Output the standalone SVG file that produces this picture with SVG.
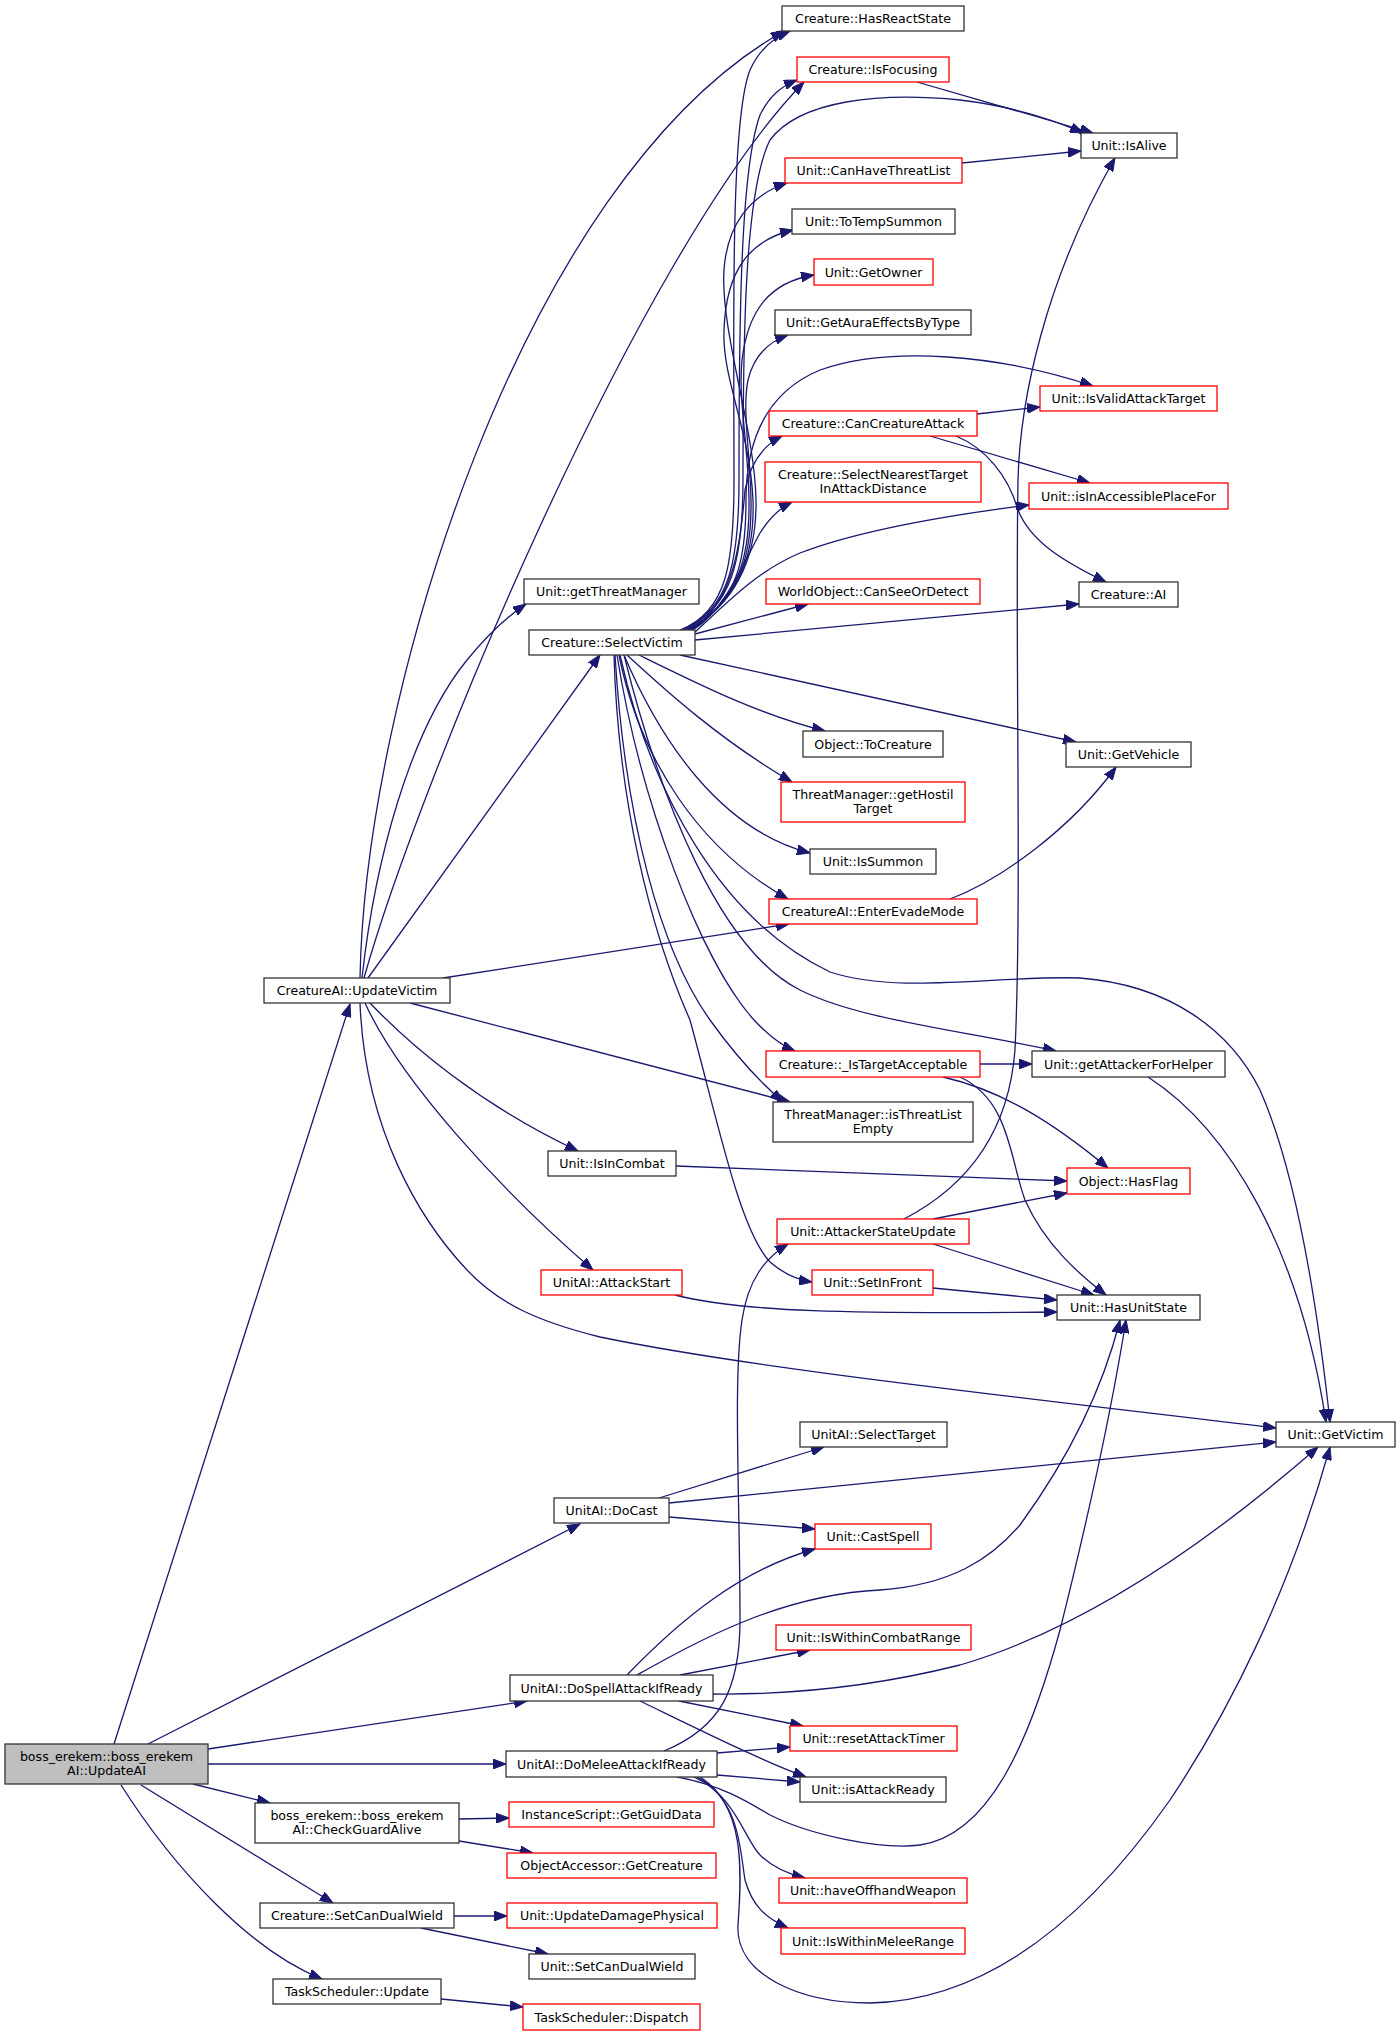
<svg xmlns="http://www.w3.org/2000/svg" width="1400" height="2036" viewBox="0 0 1400 2036">
<defs>
<style>
.n rect{fill:#ffffff;stroke:#333333;stroke-width:1.3}
.n.r rect{stroke:#ff0000}
.n.g rect{fill:#bfbfbf}
text{font-family:'DejaVu Sans','Liberation Sans',sans-serif;font-size:12.6px;text-anchor:middle;fill:#000000}
.e path{fill:none;stroke:#191970;stroke-width:1.3;marker-end:url(#a)}
</style>
<marker id="a" markerUnits="userSpaceOnUse" markerWidth="14" markerHeight="10" viewBox="0 0 14 10" refX="13" refY="5" orient="auto">
<path d="M0,0 L13,5 L0,10 z" fill="#191970" stroke="#191970" stroke-width="1"/>
</marker>
</defs>
<rect x="0" y="0" width="1400" height="2036" fill="#ffffff"/>
<g id="edges" class="e">
<!-- UpdateAI -->
<path d="M114,1744 L350,1004"/>
<path d="M148,1744 L580,1524"/>
<path d="M208,1749 L527,1701"/>
<path d="M208,1764 L506,1764"/>
<path d="M193,1784 L270,1803"/>
<path d="M141,1785 L333,1903"/>
<path d="M121,1785 C175,1870 250,1950 322,1979"/>
<!-- CheckGuardAlive / SetCanDualWield / Update -->
<path d="M459,1819 L509,1818"/>
<path d="M459,1841 L533,1853"/>
<path d="M454,1916 L507,1916"/>
<path d="M421,1928 L548,1954"/>
<path d="M441,1999 L523,2007"/>
<!-- UpdateVictim -->
<path d="M368,978 L600,655"/>
<path d="M362,978 C375,860 410,730 467,660 C485,638 505,618 526,604"/>
<path d="M364,978 C420,780 640,250 804,82"/>
<path d="M360,978 C365,700 520,180 784,31"/>
<path d="M443,978 L789,924"/>
<path d="M410,1003 L790,1102"/>
<path d="M370,1003 C410,1045 480,1105 578,1151"/>
<path d="M365,1003 C400,1080 500,1190 593,1270"/>
<path d="M360,1003 C365,1130 420,1220 467,1270 C500,1305 540,1322 600,1337 C750,1368 1000,1395 1276,1428"/>
<!-- IsInCombat / AttackStart -->
<path d="M676,1166 L1067,1181"/>
<path d="M675,1295 C740,1312 850,1314 1057,1312"/>
<!-- SelectVictim up -->
<path d="M680,630 C728,612 734,560 734,480 C734,330 730,120 750,70 C760,48 775,37 790,31"/>
<path d="M682,630 C730,610 739,560 739,480 C739,330 740,170 760,115 C770,95 782,86 797,80"/>
<path d="M684,630 C732,608 743,560 743,480 C743,330 745,190 770,140 C800,100 880,92 960,100 C1010,106 1050,118 1083,133"/>
<path d="M686,630 C734,606 757,560 756,500 C755,430 720,330 724,270 C727,225 750,195 787,183"/>
<path d="M688,630 C736,604 755,560 753,500 C750,430 722,380 724,330 C726,270 750,240 793,230"/>
<path d="M689,630 C737,602 750,560 749,500 C748,440 738,400 742,360 C748,310 770,282 814,275"/>
<path d="M690,630 C738,600 752,560 751,500 C750,450 742,410 748,380 C754,355 768,342 788,335"/>
<path d="M691,630 C738,600 746,560 746,500 C746,450 760,395 820,370 C890,345 1000,355 1093,386"/>
<path d="M692,630 C735,600 741,540 745,490 C750,465 762,446 782,436"/>
<path d="M693,630 C725,610 745,560 760,533 C770,517 780,508 792,502"/>
<path d="M695,632 C725,605 755,572 800,553 C860,530 950,515 1029,505"/>
<path d="M695,634 L808,604"/>
<path d="M695,640 L1079,604"/>
<!-- SelectVictim down -->
<path d="M680,655 L1076,742"/>
<path d="M639,655 C700,685 760,715 825,731"/>
<path d="M627,655 C665,690 720,740 792,782"/>
<path d="M624,655 C660,740 720,830 810,853"/>
<path d="M619,655 C640,760 700,850 788,899"/>
<path d="M620,655 C650,790 720,920 830,972 C900,995 1000,975 1080,978 C1170,985 1230,1030 1260,1090 C1300,1180 1320,1330 1330,1422"/>
<path d="M624,655 C660,800 720,950 800,990 C860,1020 960,1030 1056,1051"/>
<path d="M617,655 C640,800 700,960 754,1020 C768,1035 780,1045 795,1051"/>
<path d="M615,655 C625,820 660,950 710,1020 C735,1055 760,1082 783,1102"/>
<path d="M614,655 C618,800 650,930 690,1020 C720,1130 740,1230 770,1262 C785,1275 798,1280 812,1282"/>
<!-- misc upper -->
<path d="M917,82 L1093,133"/>
<path d="M962,163 L1081,151"/>
<path d="M977,414 L1040,407"/>
<path d="M930,436 L1090,483"/>
<path d="M956,436 C985,448 1008,475 1018,510 C1030,540 1060,560 1106,582"/>
<path d="M950,899 C1000,880 1070,830 1116,767"/>
<!-- IsTargetAcceptable / getAttackerForHelper -->
<path d="M980,1064 L1032,1064"/>
<path d="M943,1077 C1000,1090 1050,1120 1108,1168"/>
<path d="M960,1077 C1010,1100 1010,1160 1025,1200 C1045,1245 1080,1275 1106,1295"/>
<path d="M1148,1077 C1230,1130 1300,1250 1326,1422"/>
<!-- AttackerStateUpdate / SetInFront -->
<path d="M933,1219 L1067,1193"/>
<path d="M933,1244 L1094,1295"/>
<path d="M904,1219 C960,1190 1008,1140 1015,1050 C1022,900 1015,650 1018,480 C1020,400 1045,280 1115,158"/>
<path d="M933,1288 L1057,1300"/>
<!-- DoCast -->
<path d="M659,1498 L824,1447"/>
<path d="M669,1503 L1276,1442"/>
<path d="M669,1517 L815,1529"/>
<!-- DoSpellAttackIfReady -->
<path d="M627,1675 C680,1620 740,1570 815,1549"/>
<path d="M637,1675 C700,1640 780,1595 880,1590 C950,1585 990,1560 1020,1525 C1060,1470 1100,1400 1120,1320"/>
<path d="M680,1675 L810,1650"/>
<path d="M713,1694 C800,1695 880,1685 960,1665 C1080,1630 1200,1550 1318,1447"/>
<path d="M679,1701 L803,1726"/>
<path d="M640,1701 C700,1730 760,1760 806,1777"/>
<!-- DoMeleeAttackIfReady -->
<path d="M664,1751 C720,1728 740,1690 740,1620 C740,1500 733,1380 742,1320 C748,1280 765,1258 788,1244"/>
<path d="M717,1753 L790,1747"/>
<path d="M717,1775 L800,1782"/>
<path d="M677,1777 C720,1785 745,1800 770,1815 C810,1835 880,1850 920,1845 C990,1835 1030,1740 1060,1630 C1085,1530 1110,1420 1126,1320"/>
<path d="M694,1777 C735,1795 745,1840 760,1855 C772,1867 788,1874 805,1878"/>
<path d="M697,1777 C740,1800 740,1850 745,1880 C752,1905 765,1918 788,1928"/>
<path d="M700,1777 C745,1805 742,1870 738,1925 C735,1975 800,2003 870,2003 C1000,2000 1100,1900 1170,1800 C1230,1710 1290,1590 1330,1447"/>
</g>
<g id="n_hasreact" class="n"><rect x="782" y="6" width="182" height="25"/><text x="873" y="23">Creature::HasReactState</text></g>
<g id="n_isfocusing" class="n r"><rect x="797" y="57" width="152" height="25"/><text x="873" y="74">Creature::IsFocusing</text></g>
<g id="n_isalive" class="n"><rect x="1081" y="133" width="96" height="25"/><text x="1129" y="150">Unit::IsAlive</text></g>
<g id="n_canhave" class="n r"><rect x="785" y="158" width="177" height="25"/><text x="873.5" y="175">Unit::CanHaveThreatList</text></g>
<g id="n_totemp" class="n"><rect x="792" y="209" width="163" height="25"/><text x="873.5" y="226">Unit::ToTempSummon</text></g>
<g id="n_getowner" class="n r"><rect x="814" y="259" width="119" height="26"/><text x="873.5" y="277">Unit::GetOwner</text></g>
<g id="n_getaura" class="n"><rect x="775" y="310" width="196" height="25"/><text x="873" y="327">Unit::GetAuraEffectsByType</text></g>
<g id="n_isvalid" class="n r"><rect x="1040" y="386" width="177" height="25"/><text x="1128.5" y="403">Unit::IsValidAttackTarget</text></g>
<g id="n_cancreature" class="n r"><rect x="769" y="411" width="208" height="25"/><text x="873" y="428">Creature::CanCreatureAttack</text></g>
<g id="n_selectnearest" class="n r"><rect x="765" y="462" width="216" height="40"/><text x="873" y="479">Creature::SelectNearestTarget</text><text x="873" y="493">InAttackDistance</text></g>
<g id="n_isinaccessible" class="n r"><rect x="1029" y="483" width="199" height="26"/><text x="1128.5" y="501">Unit::isInAccessiblePlaceFor</text></g>
<g id="n_getthreatmgr" class="n"><rect x="524" y="579" width="175" height="25"/><text x="611.5" y="596">Unit::getThreatManager</text></g>
<g id="n_canseeor" class="n r"><rect x="766" y="579" width="214" height="25"/><text x="873" y="596">WorldObject::CanSeeOrDetect</text></g>
<g id="n_creatureai" class="n"><rect x="1079" y="582" width="99" height="25"/><text x="1128.5" y="599">Creature::AI</text></g>
<g id="n_selectvictim" class="n"><rect x="529" y="630" width="166" height="25"/><text x="612" y="647">Creature::SelectVictim</text></g>
<g id="n_tocreature" class="n"><rect x="803" y="731" width="140" height="26"/><text x="873" y="749">Object::ToCreature</text></g>
<g id="n_getvehicle" class="n"><rect x="1066" y="742" width="125" height="25"/><text x="1128.5" y="759">Unit::GetVehicle</text></g>
<g id="n_gethostil" class="n r"><rect x="781" y="782" width="184" height="40"/><text x="873" y="799">ThreatManager::getHostil</text><text x="873" y="813">Target</text></g>
<g id="n_issummon" class="n"><rect x="810" y="849" width="126" height="25"/><text x="873" y="866">Unit::IsSummon</text></g>
<g id="n_enterevade" class="n r"><rect x="769" y="899" width="208" height="25"/><text x="873" y="916">CreatureAI::EnterEvadeMode</text></g>
<g id="n_updatevictim" class="n"><rect x="264" y="978" width="186" height="25"/><text x="357" y="995">CreatureAI::UpdateVictim</text></g>
<g id="n_istarget" class="n r"><rect x="766" y="1051" width="214" height="26"/><text x="873" y="1069">Creature::_IsTargetAcceptable</text></g>
<g id="n_getattacker" class="n"><rect x="1032" y="1051" width="193" height="26"/><text x="1128.5" y="1069">Unit::getAttackerForHelper</text></g>
<g id="n_isthreatlist" class="n"><rect x="773" y="1102" width="200" height="40"/><text x="873" y="1119">ThreatManager::isThreatList</text><text x="873" y="1133">Empty</text></g>
<g id="n_isincombat" class="n"><rect x="548" y="1151" width="128" height="25"/><text x="612" y="1168">Unit::IsInCombat</text></g>
<g id="n_hasflag" class="n r"><rect x="1067" y="1168" width="123" height="26"/><text x="1128.5" y="1186">Object::HasFlag</text></g>
<g id="n_attackerstate" class="n r"><rect x="777" y="1219" width="192" height="25"/><text x="873" y="1236">Unit::AttackerStateUpdate</text></g>
<g id="n_attackstart" class="n r"><rect x="541" y="1270" width="141" height="25"/><text x="611.5" y="1287">UnitAI::AttackStart</text></g>
<g id="n_setinfront" class="n r"><rect x="812" y="1270" width="121" height="25"/><text x="872.5" y="1287">Unit::SetInFront</text></g>
<g id="n_hasunitstate" class="n"><rect x="1057" y="1295" width="143" height="25"/><text x="1128.5" y="1312">Unit::HasUnitState</text></g>
<g id="n_selecttarget" class="n"><rect x="800" y="1422" width="147" height="25"/><text x="873.5" y="1439">UnitAI::SelectTarget</text></g>
<g id="n_getvictim" class="n"><rect x="1276" y="1422" width="119" height="25"/><text x="1335.5" y="1439">Unit::GetVictim</text></g>
<g id="n_docast" class="n"><rect x="554" y="1498" width="115" height="25"/><text x="611.5" y="1515">UnitAI::DoCast</text></g>
<g id="n_castspell" class="n r"><rect x="815" y="1524" width="116" height="25"/><text x="873" y="1541">Unit::CastSpell</text></g>
<g id="n_iswithincombat" class="n r"><rect x="776" y="1625" width="195" height="25"/><text x="873.5" y="1642">Unit::IsWithinCombatRange</text></g>
<g id="n_dospell" class="n"><rect x="510" y="1675" width="203" height="26"/><text x="611.5" y="1693">UnitAI::DoSpellAttackIfReady</text></g>
<g id="n_resetattack" class="n r"><rect x="790" y="1726" width="167" height="25"/><text x="873.5" y="1743">Unit::resetAttackTimer</text></g>
<g id="n_domelee" class="n"><rect x="506" y="1751" width="211" height="26"/><text x="611.5" y="1769">UnitAI::DoMeleeAttackIfReady</text></g>
<g id="n_isattackready" class="n"><rect x="800" y="1777" width="146" height="25"/><text x="873" y="1794">Unit::isAttackReady</text></g>
<g id="n_getguid" class="n r"><rect x="509" y="1802" width="205" height="25"/><text x="611.5" y="1819">InstanceScript::GetGuidData</text></g>
<g id="n_updateai" class="n g"><rect x="5" y="1744" width="203" height="40"/><text x="106.5" y="1761">boss_erekem::boss_erekem</text><text x="106.5" y="1775">AI::UpdateAI</text></g>
<g id="n_checkguard" class="n"><rect x="255" y="1803" width="204" height="40"/><text x="357" y="1820">boss_erekem::boss_erekem</text><text x="357" y="1834">AI::CheckGuardAlive</text></g>
<g id="n_getcreature" class="n r"><rect x="507" y="1853" width="209" height="25"/><text x="611.5" y="1870">ObjectAccessor::GetCreature</text></g>
<g id="n_haveoffhand" class="n r"><rect x="779" y="1878" width="188" height="25"/><text x="873" y="1895">Unit::haveOffhandWeapon</text></g>
<g id="n_setcandual_c" class="n"><rect x="260" y="1903" width="194" height="25"/><text x="357" y="1920">Creature::SetCanDualWield</text></g>
<g id="n_updatedmg" class="n r"><rect x="507" y="1903" width="210" height="25"/><text x="612" y="1920">Unit::UpdateDamagePhysical</text></g>
<g id="n_iswithinmelee" class="n r"><rect x="781" y="1928" width="184" height="26"/><text x="873" y="1946">Unit::IsWithinMeleeRange</text></g>
<g id="n_setcandual_u" class="n"><rect x="529" y="1954" width="166" height="25"/><text x="612" y="1971">Unit::SetCanDualWield</text></g>
<g id="n_taskupdate" class="n"><rect x="273" y="1979" width="168" height="25"/><text x="357" y="1996">TaskScheduler::Update</text></g>
<g id="n_dispatch" class="n r"><rect x="523" y="2004" width="177" height="26"/><text x="611.5" y="2022">TaskScheduler::Dispatch</text></g>
</svg>
